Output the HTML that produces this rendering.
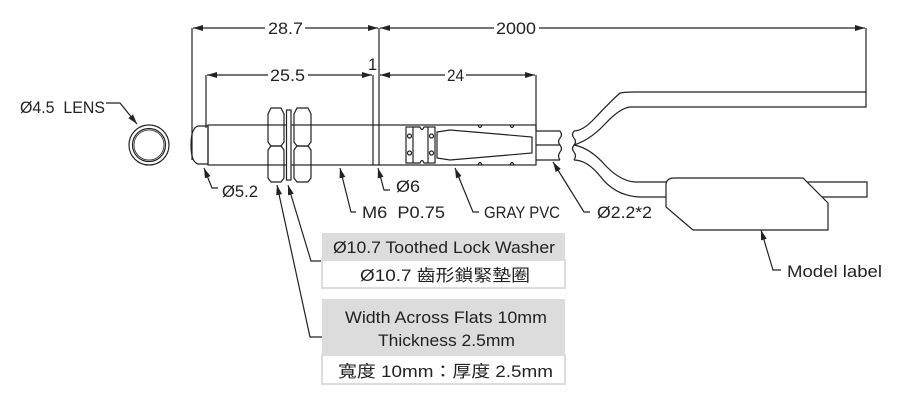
<!DOCTYPE html>
<html><head><meta charset="utf-8"><style>
html,body{margin:0;padding:0;background:#fff;}
svg{display:block}
text{font-family:"Liberation Sans","Noto Sans CJK TC",sans-serif;fill:#222;font-size:16.5px}
</style></head><body>
<svg width="900" height="409" viewBox="0 0 900 409" xmlns="http://www.w3.org/2000/svg">
<defs><marker id="a" markerWidth="10" markerHeight="6" refX="10" refY="3" orient="auto-start-reverse" markerUnits="userSpaceOnUse"><path d="M0,0 L10,3 L0,6z" fill="#222"/></marker></defs>
<g stroke="#222" stroke-width="1.2" fill="none">
<line x1="192" y1="28" x2="192" y2="160"/>
<line x1="379" y1="28" x2="379" y2="165"/>
<line x1="373" y1="75" x2="373" y2="165"/>
<line x1="206" y1="75" x2="206" y2="128"/>
<line x1="536" y1="75" x2="536" y2="130"/>
<line x1="866" y1="28" x2="866" y2="93"/>
<line x1="193" y1="28" x2="265" y2="28" marker-start="url(#a)"/>
<line x1="305" y1="28" x2="378" y2="28" marker-end="url(#a)"/>
<line x1="380" y1="28" x2="494" y2="28" marker-start="url(#a)"/>
<line x1="539" y1="28" x2="865" y2="28" marker-end="url(#a)"/>
<line x1="207" y1="75" x2="268" y2="75" marker-start="url(#a)"/>
<line x1="308" y1="75" x2="372" y2="75" marker-end="url(#a)"/>
<line x1="380" y1="75" x2="445" y2="75" marker-start="url(#a)"/>
<line x1="466" y1="75" x2="535" y2="75" marker-end="url(#a)"/>
<circle cx="149" cy="145" r="20"/><circle cx="149" cy="145" r="16.5"/><circle cx="149" cy="145" r="15" stroke-width="0.8"/>
<path d="M208,126 L198,126 Q191,128 191,145 Q191,162 198,164 L208,164"/>
<path d="M208,126 L208,164"/>
<rect x="208" y="125" width="328" height="40"/>
<path d="M271,108 L281,108 L284,114 L284,142 L281,146 L271,146 L268,142 L268,114 Z"/>
<path d="M271,146 L281,146 L284,150 L284,178 L281,182 L271,182 L268,178 L268,150 Z" />
<rect x="286.5" y="110" width="4.5" height="70" fill="#fff"/>
<path d="M297,108 L308,108 L311,114 L311,142 L308,146 L297,146 L294,142 L294,114 Z"/>
<path d="M297,146 L308,146 L311,150 L311,178 L308,182 L297,182 L294,178 L294,150 Z"/>
<rect x="406" y="127" width="7" height="36" fill="#fff"/>
<rect x="428" y="127" width="7" height="36" fill="#fff"/>
<circle cx="409.5" cy="136" r="2"/><circle cx="409.5" cy="153" r="2"/>
<circle cx="431.5" cy="136" r="2"/><circle cx="431.5" cy="153" r="2"/>
<path d="M413,127 L420,127 Q422,132 424,127 L428,127"/>
<path d="M413,163 L420,163 Q422,158 424,163 L428,163"/>
<path d="M437,132 L450,130 L532,137 L532,153 L450,160 L437,158 Z"/>
<path d="M478,125 Q480,130 482,125 M510,125 Q512,130 514,125 M478,165 Q480,160 482,165 M510,165 Q512,160 514,165"/>
<path d="M536,131 L560,131 M536,145 L560,145 M536,160 L560,160"/>
<path d="M560,131 q3,4 0,7 q-3,4 0,7 q3,4 0,7 q-3,4 0,8"/>
<path d="M574,131 q-3,4 0,7 q3,4 0,7 q-3,4 0,7 q3,4 0,8"/>
<path d="M574,131 Q583,131 595,118 Q610,102 620,93 Q625,92 640,92 L866,92 L866,107 L630,107 Q620,108 605,124 Q590,140 574,145"/>
<path d="M574,145 Q590,148 605,165 Q620,181 635,182 L867,182 L867,197 L665,197 M574,160 Q587,160 600,176 Q615,196 640,197 L666,197"/>
<path d="M674,178 L803,178 L828,203 L828,230 L693,230 L666,207 L666,184 Q667,178 674,178 Z" fill="#fff"/>
<path d="M106,103 L120,103 L137,124" marker-end="url(#a)"/>
<path d="M218,188 L212,188 L204,168" marker-end="url(#a)"/>
<path d="M356,212 L351,212 L340,168" marker-end="url(#a)"/>
<path d="M390,190 L384,190 L378,168" marker-end="url(#a)"/>
<path d="M479,212 L473,212 L455,168" marker-end="url(#a)"/>
<path d="M590,212 L584,212 L553,162" marker-end="url(#a)"/>
<path d="M781,270 L773,270 L761,230" marker-end="url(#a)"/>
<path d="M322,261 L311,261 L288,185" marker-end="url(#a)"/>
<path d="M322,337 L310,337 L277,185" marker-end="url(#a)"/>
</g>
<rect x="322" y="233" width="243" height="27" fill="#dcdcdc"/>
<rect x="322" y="260" width="243" height="28" fill="#fff" stroke="#dcdcdc" stroke-width="2"/>
<rect x="322" y="299" width="243" height="56" fill="#dcdcdc"/>
<rect x="322" y="355" width="243" height="29" fill="#fff" stroke="#dcdcdc" stroke-width="2"/>
<g>
<text x="268" y="34" textLength="35" lengthAdjust="spacingAndGlyphs">28.7</text>
<text x="496" y="34" textLength="40" lengthAdjust="spacingAndGlyphs">2000</text>
<text x="270" y="81" textLength="35" lengthAdjust="spacingAndGlyphs">25.5</text>
<text x="447" y="81" textLength="17" lengthAdjust="spacingAndGlyphs">24</text>
<text x="368" y="70">1</text>
<text x="20" y="113" textLength="85" lengthAdjust="spacingAndGlyphs" xml:space="preserve">Ø4.5  LENS</text>
<text x="222" y="197" textLength="36" lengthAdjust="spacingAndGlyphs">Ø5.2</text>
<text x="396" y="192" textLength="24" lengthAdjust="spacingAndGlyphs">Ø6</text>
<text x="362" y="218" textLength="83" lengthAdjust="spacingAndGlyphs" xml:space="preserve">M6  P0.75</text>
<text x="484" y="218" textLength="76" lengthAdjust="spacingAndGlyphs">GRAY PVC</text>
<text x="597" y="218" textLength="55" lengthAdjust="spacingAndGlyphs">Ø2.2*2</text>
<text x="787" y="277" textLength="95" lengthAdjust="spacingAndGlyphs">Model label</text>
<text x="333" y="253" textLength="222" lengthAdjust="spacingAndGlyphs">Ø10.7 Toothed Lock Washer</text>
<text x="360" y="281" textLength="170" lengthAdjust="spacingAndGlyphs">Ø10.7 齒形鎖緊墊圈</text>
<text x="345" y="323" textLength="202" lengthAdjust="spacingAndGlyphs">Width Across Flats 10mm</text>
<text x="378" y="346" textLength="137" lengthAdjust="spacingAndGlyphs">Thickness 2.5mm</text>
<text x="338" y="377" textLength="215" lengthAdjust="spacingAndGlyphs">寬度 10mm：厚度 2.5mm</text>
</g>
</svg>
</body></html>
